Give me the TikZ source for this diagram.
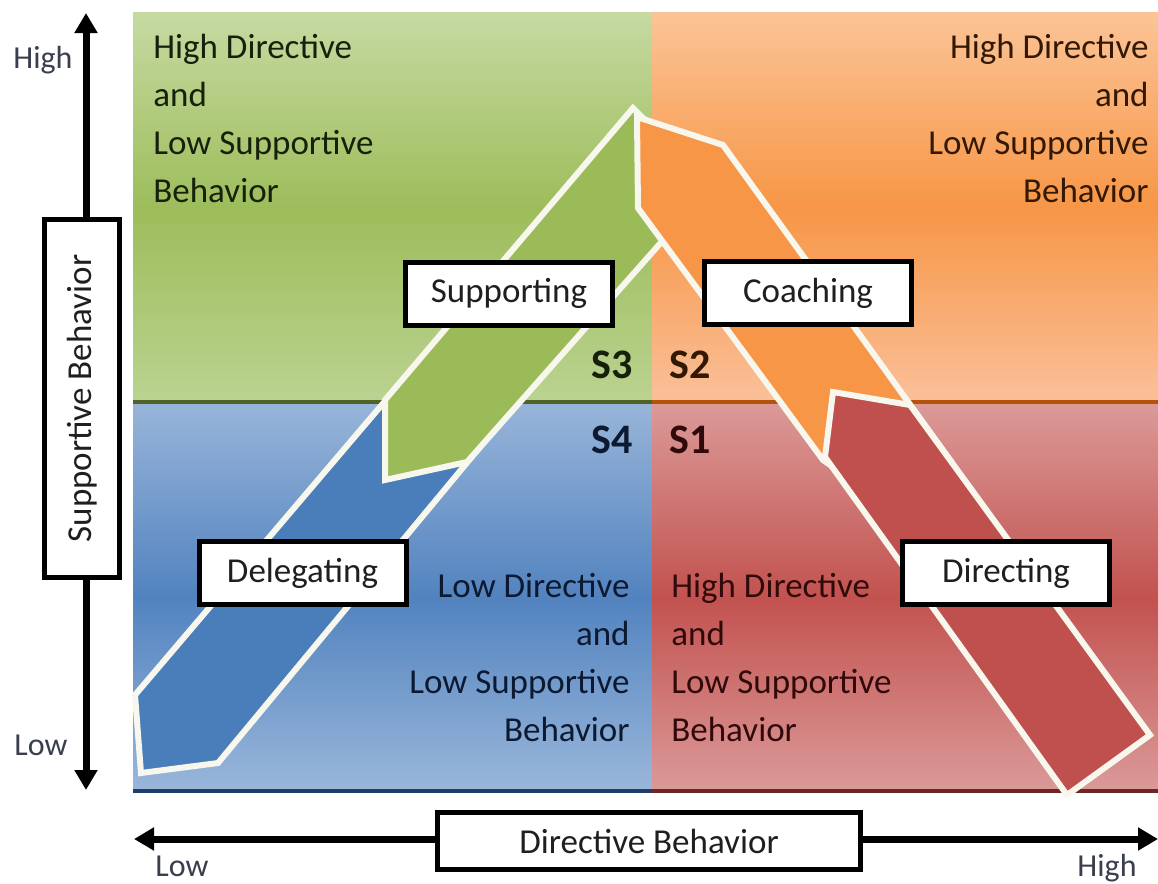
\documentclass[tikz,border=0pt]{standalone}
\usepackage{fontspec}
\setmainfont{Carlito}
\usetikzlibrary{arrows.meta}

% quadrant shading colours
\definecolor{gTop}{HTML}{C6DAA2}\definecolor{gMid}{HTML}{9DBD5B}\definecolor{gBot}{HTML}{BAD391}
\definecolor{oTop}{HTML}{FBC497}\definecolor{oMid}{HTML}{F79646}\definecolor{oBot}{HTML}{FAC09A}
\definecolor{bTop}{HTML}{98B5D9}\definecolor{bMid}{HTML}{5283BF}\definecolor{bBot}{HTML}{9AB7DB}
\definecolor{rTop}{HTML}{DB9A98}\definecolor{rMid}{HTML}{C2524F}\definecolor{rBot}{HTML}{DB9A99}
% quadrant rules
\definecolor{gRule}{HTML}{4F6228}\definecolor{oRule}{HTML}{B4540A}
\definecolor{bRule}{HTML}{1F3D66}\definecolor{rRule}{HTML}{6E2624}
% band arrows
\definecolor{bArrow}{HTML}{4A7EBB}\definecolor{gArrow}{HTML}{9BBB59}
\definecolor{oArrow}{HTML}{F79646}\definecolor{rArrow}{HTML}{C0504D}
\definecolor{rim}{HTML}{F7F7EE}
% text
\definecolor{gText}{HTML}{16200A}\definecolor{oText}{HTML}{331904}
\definecolor{bText}{HTML}{0C1930}\definecolor{rText}{HTML}{300A0A}
\definecolor{axText}{HTML}{3A3F4F}

\tikzset{
  quadtext/.style={font=\fontsize{17.5}{24}\selectfont, inner sep=0pt},
  slabel/.style={font=\bfseries\fontsize{21}{24}\selectfont, inner sep=0pt},
  axislabel/.style={font=\fontsize{16}{19}\selectfont, inner sep=0pt, text=axText},
  labelbox/.style={draw=black, line width=2.5pt, fill=white, inner sep=0pt,
    minimum width=103.5pt, minimum height=31.5pt,
    font=\fontsize{17.5}{21}\selectfont, text=black!88},
  bandarrow/.style={draw=rim, line width=3pt, line join=miter},
  axisline/.style={line width=3.5pt,
    {Triangle[length=10pt,width=11pt]}-{Triangle[length=10pt,width=11pt]}},
  % light at the edges, full colour across the middle (middle color must come last)
  quadshade/.style n args={3}{top color=#1, bottom color=#3, middle color=#2},
}

\begin{document}
\begin{tikzpicture}[x=0.5pt,y=-0.5pt]
\useasboundingbox (0,0) rectangle (1158,884);

% four quadrants
\shade[quadshade={gTop}{gMid}{gBot}] (133,12) rectangle (652,403);
\shade[quadshade={oTop}{oMid}{oBot}] (652,12) rectangle (1158,403);
\shade[quadshade={bTop}{bMid}{bBot}] (133,403) rectangle (652,792);
\shade[quadshade={rTop}{rMid}{rBot}] (652,403) rectangle (1158,792);
\draw[gRule, line width=2pt] (133,402) -- (652,402);
\draw[oRule, line width=2pt] (652,402) -- (1158,402);
\draw[bRule, line width=2pt] (133,791) -- (652,791);
\draw[rRule, line width=2pt] (652,791) -- (1158,791);

% band arrows, back to front
\filldraw[bandarrow, fill=bArrow] (135,695) -- (141,773) -- (218,763) -- (480,447) -- (420,360) -- cycle;
\filldraw[bandarrow, fill=gArrow] (385,480) -- (385,400) -- (633,108) -- (700,175) -- (680,221) -- (467,462) -- cycle;
\filldraw[bandarrow, fill=oArrow] (637,117) -- (723,145) -- (950,460) -- (880,500) -- (823,460) -- (638,208) -- cycle;
\filldraw[bandarrow, fill=rArrow] (833,392) -- (910,405) -- (1150,735) -- (1067,795) -- (825,457) -- cycle;

% style labels on the arrows
\node[labelbox] (supporting) at (509,293.5) {Supporting};
\node[labelbox] (coaching)   at (808,293)   {Coaching};
\node[labelbox] (delegating) at (302.5,573) {Delegating};
\node[labelbox] (directing)  at (1006,573)  {Directing};

% quadrant numbers
\node[slabel, text=gText, anchor=east] (s3) at (633,365) {S3};
\node[slabel, text=oText, anchor=west] (s2) at (669,365) {S2};
\node[slabel, text=bText, anchor=east] (s4) at (633,440) {S4};
\node[slabel, text=rText, anchor=west] (s1) at (669,440) {S1};

% quadrant descriptions
\node[quadtext, text=gText, anchor=north west, align=left]  (tl) at (153,34)
  {High Directive\\and\\Low Supportive\\Behavior};
\node[quadtext, text=oText, anchor=north east, align=right] (tr) at (1149,34)
  {High Directive\\and\\Low Supportive\\Behavior};
\node[quadtext, text=bText, anchor=north east, align=right] (bl) at (630,573)
  {Low Directive\\and\\Low Supportive\\Behavior};
\node[quadtext, text=rText, anchor=north west, align=left]  (br) at (671,573)
  {High Directive\\and\\Low Supportive\\Behavior};

% vertical axis
\coordinate (vtop) at (86,13);
\coordinate (vbot) at (86,790);
\draw[axisline] (vbot) -- (vtop);
\node[labelbox, rotate=90, minimum width=179pt, minimum height=37.5pt] (vaxis) at (82,398.5) {Supportive Behavior};
\node[axislabel, anchor=base west] (vhigh) at (13,68) {High};
\node[axislabel, anchor=base west] (vlow) at (14,755) {Low};

% horizontal axis
\coordinate (hleft) at (134,839);
\coordinate (hright) at (1158,839);
\draw[axisline] (hleft) -- (hright);
\node[labelbox, minimum width=211.5pt, minimum height=28.5pt] (haxis) at (649,841) {Directive Behavior};
\node[axislabel, anchor=base west] (hlow) at (155,876) {Low};
\node[axislabel, anchor=base east] (hhigh) at (1137,876) {High};
\end{tikzpicture}
\end{document}
